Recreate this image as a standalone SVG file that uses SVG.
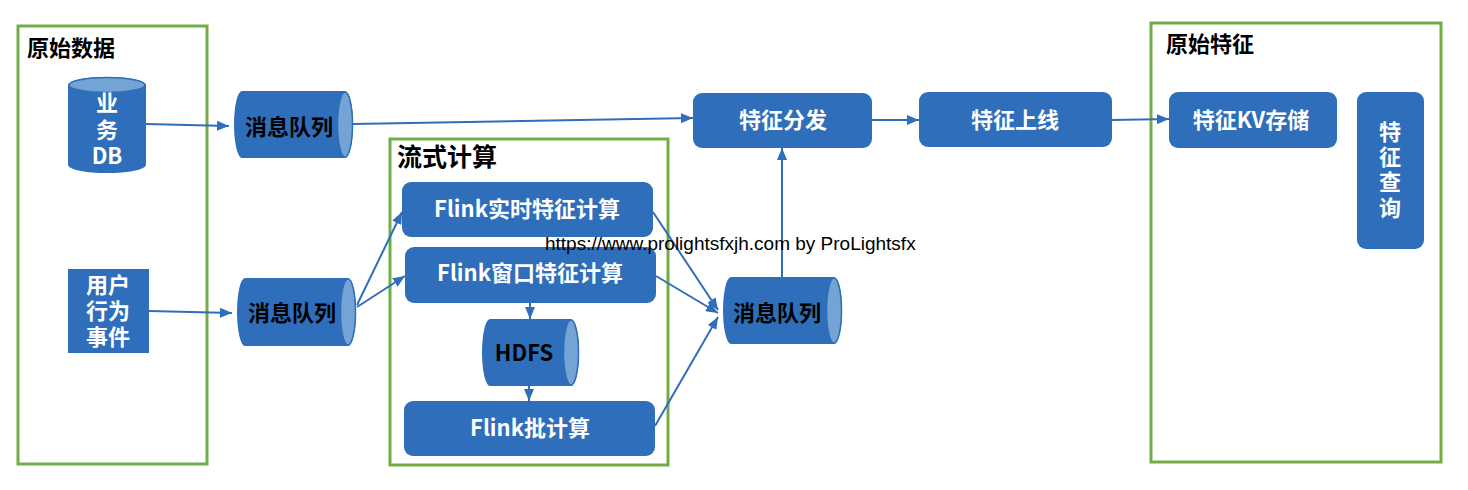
<svg xmlns="http://www.w3.org/2000/svg" width="1468" height="490" viewBox="0 0 1468 490">
<style>
.grp{fill:none;stroke:#70AD47;stroke-width:3}
.title{font-family:"Noto Sans CJK SC","Liberation Sans",sans-serif;font-weight:bold;font-size:22px;fill:#000}
.box{fill:#2F6EBA}
.lt{fill:#74A3D5;stroke:#2F6EBA;stroke-width:1.5}
.wt{font-family:"Noto Sans CJK SC","Liberation Sans",sans-serif;font-weight:bold;font-size:22px;fill:#fff;text-anchor:middle}
.bt{font-family:"Noto Sans CJK SC","Liberation Sans",sans-serif;font-weight:bold;font-size:22px;fill:#000;text-anchor:middle}
.cn{fill:none;stroke:#2F6EBA;stroke-width:2;marker-end:url(#ah)}
</style>
<defs>
<marker id="ah" viewBox="0 0 12 10" refX="12" refY="5" markerWidth="12" markerHeight="10" markerUnits="userSpaceOnUse" orient="auto">
<path d="M0,0 L12,5 L0,10 z" fill="#2F6EBA"/>
</marker>
</defs>
<rect width="1468" height="490" fill="#fff"/>

<g id="group-raw-data">
<rect class="grp" x="18" y="26" width="189" height="438"/>
<text class="title" x="27" y="56">原始数据</text>
</g>
<g id="group-stream">
<rect class="grp" x="390" y="139" width="278" height="326"/>
<text class="title" x="397" y="166" style="font-size:25px">流式计算</text>
</g>
<g id="group-raw-feature">
<rect class="grp" x="1151" y="23" width="290" height="439"/>
<text class="title" x="1166" y="52">原始特征</text>
</g>

<g id="connectors">
<path class="cn" d="M146,124 L229,126"/>
<path class="cn" d="M149,311 L232,313"/>
<path class="cn" d="M353,124 L693,118"/>
<path class="cn" d="M357,305 L402,212"/>
<path class="cn" d="M357,307 L405,276"/>
<path class="cn" d="M530,303 L530,319"/>
<path class="cn" d="M529,386 L529,401"/>
<path class="cn" d="M653,212 L718,310"/>
<path class="cn" d="M656,276 L718,313"/>
<path class="cn" d="M655,426 L718,317"/>
<path class="cn" d="M782,277 L782,148"/>
<path class="cn" d="M872,120 L919,120"/>
<path class="cn" d="M1112,120 L1169,119"/>
</g>

<g id="node-db">
<path class="box" d="M68,85 V165 A39,8 0 0 0 146,165 V85 A39,8 0 0 0 68,85 Z"/>
<ellipse class="lt" cx="107" cy="85" rx="38" ry="7.5"/>
<text class="wt"><tspan x="107" y="111">业</tspan><tspan x="107" y="138">务</tspan><tspan x="107" y="164">DB</tspan></text>
</g>

<g id="node-user-event">
<rect class="box" x="68" y="269" width="81" height="84"/>
<text class="wt"><tspan x="108" y="293">用户</tspan><tspan x="108" y="319">行为</tspan><tspan x="108" y="345">事件</tspan></text>
</g>

<g id="node-mq1">
<path class="box" d="M242,91 H345 A8,33.5 0 0 1 345,158 H242 A8,33.5 0 0 1 242,91 Z"/>
<ellipse class="lt" cx="345" cy="124.5" rx="7.5" ry="32.5"/>
<text class="bt" x="289" y="135">消息队列</text>
</g>

<g id="node-mq2">
<path class="box" d="M245,278 H348 A8,34 0 0 1 348,346 H245 A8,34 0 0 1 245,278 Z"/>
<ellipse class="lt" cx="348" cy="312" rx="7.5" ry="33"/>
<text class="bt" x="292" y="321">消息队列</text>
</g>

<g id="node-flink-realtime">
<rect class="box" x="402" y="182" width="251" height="55" rx="9"/>
<text class="wt" x="527" y="217">Flink实时特征计算</text>
</g>

<g id="node-flink-window">
<rect class="box" x="405" y="247" width="251" height="56" rx="9"/>
<text class="wt" x="530" y="281">Flink窗口特征计算</text>
</g>

<g id="node-hdfs">
<path class="box" d="M490,319 H571 A8,33.5 0 0 1 571,386 H490 A8,33.5 0 0 1 490,319 Z"/>
<ellipse class="lt" cx="571" cy="352.5" rx="7.5" ry="32.5"/>
<text class="bt" x="524" y="361">HDFS</text>
</g>

<g id="node-flink-batch">
<rect class="box" x="404" y="401" width="251" height="55" rx="9"/>
<text class="wt" x="530" y="436">Flink批计算</text>
</g>

<g id="node-mq3">
<path class="box" d="M731,277 H834 A8,33.5 0 0 1 834,344 H731 A8,33.5 0 0 1 731,277 Z"/>
<ellipse class="lt" cx="834" cy="310.5" rx="7.5" ry="32.5"/>
<text class="bt" x="777" y="321">消息队列</text>
</g>

<g id="node-dispatch">
<rect class="box" x="693" y="93" width="179" height="55" rx="9"/>
<text class="wt" x="783" y="128">特征分发</text>
</g>

<g id="node-online">
<rect class="box" x="919" y="92" width="193" height="55" rx="9"/>
<text class="wt" x="1015" y="128">特征上线</text>
</g>

<g id="node-kv">
<rect class="box" x="1169" y="92" width="168" height="56" rx="9"/>
<text class="wt" x="1251" y="128">特征KV存储</text>
</g>

<g id="node-query">
<rect class="box" x="1357" y="92" width="67" height="157" rx="9"/>
<text class="wt"><tspan x="1390" y="140">特</tspan><tspan x="1390" y="165">征</tspan><tspan x="1390" y="190">查</tspan><tspan x="1390" y="216">询</tspan></text>
</g>

<text x="545" y="250" font-family="'Liberation Sans',Arial,sans-serif" font-size="19" fill="#000">https://www.prolightsfxjh.com by ProLightsfx</text>
</svg>
